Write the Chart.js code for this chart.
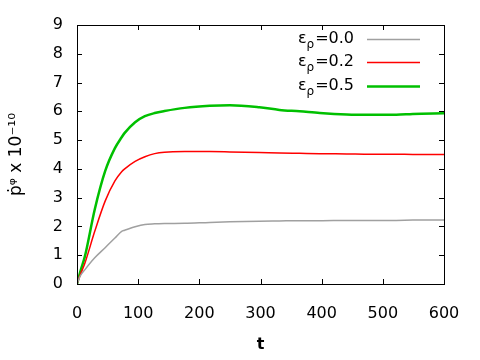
<!DOCTYPE html>
<html>
<head>
<meta charset="utf-8">
<script src="https://cdn.jsdelivr.net/npm/chart.js@4"></script>
<style>
  html, body { margin: 0; padding: 0; background: #fff; }
  #wrap { width: 480px; height: 360px; }
</style>
</head>
<body>
<div id="wrap"><canvas id="chart" width="480" height="360"></canvas></div>
<script>
  'use strict'

  var tVals = [0, 5, 13, 29, 46, 62, 73, 78, 95, 111, 127, 143, 176, 217, 250, 298, 331, 364, 397, 441, 480, 522, 549, 600]
  var eps00 = [0, 0.27, 0.5, 0.91, 1.26, 1.6, 1.83, 1.87, 1.99, 2.07, 2.09, 2.1, 2.11, 2.14, 2.16, 2.18, 2.19, 2.2, 2.2, 2.21, 2.21, 2.21, 2.22, 2.22]
  var eps02 = [0, 0.3, 0.73, 1.83, 2.88, 3.58, 3.9, 4.0, 4.26, 4.42, 4.53, 4.58, 4.6, 4.6, 4.59, 4.57, 4.55, 4.54, 4.53, 4.52, 4.51, 4.51, 4.5, 4.5]
  var eps05 = [0, 0.4, 0.97, 2.59, 3.92, 4.72, 5.1, 5.25, 5.62, 5.83, 5.94, 6.01, 6.12, 6.19, 6.21, 6.14, 6.05, 6.0, 5.94, 5.89, 5.88, 5.88, 5.91, 5.93]
  var seriesNames = ['0.0', '0.2', '0.5']
  var xTicks = [0, 100, 200, 300, 400, 500, 600]
  var yTicks = [0, 1, 2, 3, 4, 5, 6, 7, 8, 9]

  function pts (ys) {
    return tVals.map(function (t, i) { return { x: t, y: ys[i] } })
  }

  var FONT = '"DejaVu Sans", sans-serif'

  // gnuplot-style frame with inward ticks plus a right-side legend
  var frame = {
    id: 'frame',
    afterDraw: function (chart) {
      var c = chart.ctx
      var a = chart.chartArea
      var xs = chart.scales.x
      var ys = chart.scales.y
      c.save()
      c.strokeStyle = '#000'
      c.lineWidth = 1
      c.strokeRect(a.left + 0.5, a.top + 0.5, a.right - a.left, a.bottom - a.top)
      c.beginPath()
      xTicks.forEach(function (v) {
        var px = Math.round(xs.getPixelForValue(v)) + 0.5
        c.moveTo(px, a.bottom); c.lineTo(px, a.bottom - 5)
        c.moveTo(px, a.top); c.lineTo(px, a.top + 5)
      })
      yTicks.forEach(function (v) {
        var py = Math.round(ys.getPixelForValue(v)) + 0.5
        c.moveTo(a.left, py); c.lineTo(a.left + 5, py)
        c.moveTo(a.right, py); c.lineTo(a.right - 5, py)
      })
      c.stroke()

      // legend
      var textRight = 354
      chart.data.datasets.forEach(function (ds, i) {
        var y = 39 + i * 23.3
        var main = '16px ' + FONT
        var sub = '12px ' + FONT
        c.font = main
        var wEps = c.measureText('\u03b5').width
        var wRest = c.measureText('=' + seriesNames[i]).width
        c.font = sub
        var wRho = c.measureText('\u03c1').width + 1
        var x0 = textRight - wEps - wRho - wRest
        c.fillStyle = '#000'
        c.textBaseline = 'middle'
        c.textAlign = 'left'
        c.font = main
        c.fillText('\u03b5', x0, y)
        c.font = sub
        c.fillText('\u03c1', x0 + wEps, y + 6)
        c.font = main
        c.fillText('=' + seriesNames[i], x0 + wEps + wRho, y)
        c.strokeStyle = ds.borderColor
        c.lineWidth = ds.borderWidth
        c.beginPath()
        c.moveTo(367, Math.round(y) + 0.5)
        c.lineTo(420, Math.round(y) + 0.5)
        c.stroke()
      })
      c.restore()
    }
  }

  var ctx = document.getElementById('chart')

  var data = {
    datasets: [{
      label: '\u03b5\u03c1=0.0',
      data: pts(eps00),
      borderColor: '#a0a0a0',
      borderWidth: 1.5
    }, {
      label: '\u03b5\u03c1=0.2',
      data: pts(eps02),
      borderColor: '#ff0000',
      borderWidth: 1.5
    }, {
      label: '\u03b5\u03c1=0.5',
      data: pts(eps05),
      borderColor: '#00c000',
      borderWidth: 2.5
    }]
  }

  var options = {
    responsive: false,
    animation: false,
    layout: { padding: { left: 0, right: 36, top: 25, bottom: 0 } },
    elements: {
      point: { radius: 0 },
      line: { cubicInterpolationMode: 'monotone', fill: false }
    },
    plugins: {
      legend: { display: false },
      tooltip: { enabled: false }
    },
    scales: {
      x: {
        type: 'linear',
        min: 0,
        max: 600,
        afterFit: function (s) { s.height = 76 },
        afterBuildTicks: function (s) { s.ticks = xTicks.map(function (v) { return { value: v } }) },
        grid: { display: false, drawTicks: false },
        border: { display: false },
        ticks: { color: '#000', font: { family: FONT, size: 16 }, padding: 20, maxRotation: 0 },
        title: { display: true, text: 't', color: '#000', font: { family: FONT, size: 16, weight: 'bold' }, padding: { top: 0, bottom: 6 } }
      },
      y: {
        min: 0,
        max: 9,
        afterFit: function (s) { s.width = 77 },
        afterBuildTicks: function (s) { s.ticks = yTicks.map(function (v) { return { value: v } }) },
        grid: { display: false, drawTicks: false },
        border: { display: false },
        ticks: { color: '#000', font: { family: FONT, size: 16 }, padding: 14 },
        title: { display: true, text: '\u1e57\u1d60 x 10\u207b\u00b9\u2070', color: '#000', font: { family: FONT, size: 17 }, padding: { top: 6, bottom: 0 } }
      }
    }
  }

  var config = {
    type: 'line',
    data: data,
    options: options,
    plugins: [frame]
  }

  var myChart = new Chart(ctx, config)
</script>
</body>
</html>
